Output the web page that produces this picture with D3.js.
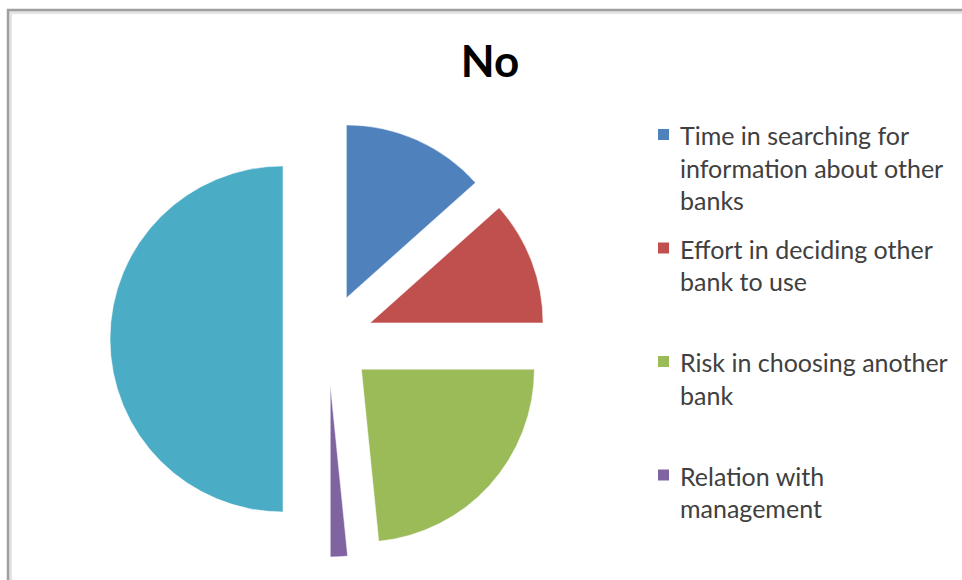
<!DOCTYPE html>
<html>
<head>
<meta charset="utf-8">
<script src="https://cdn.jsdelivr.net/npm/d3@7"></script>
<style>
  html, body { margin: 0; padding: 0; background: #ffffff; }
  svg { display: block; }
</style>
</head>
<body>
<svg id="chart" width="962" height="580"></svg>
<script>
// Chart content
const chartTitle = "No";
const categories = [
  "Time in searching for information about other banks",
  "Effort in deciding other bank to use",
  "Risk in choosing another bank",
  "Relation with management",
  "Other reasons"
];
const shares = [13.4, 11.6, 23.4, 1.6, 50.0];
const sliceColors = ["#4F81BD", "#C0504D", "#9BBB59", "#8064A2", "#4BACC6"];

const width = 962, height = 580;
const svg = d3.select("#chart");

// Frame around the chart area
svg.append("rect")
  .attr("x", 10).attr("y", 12)
  .attr("width", width + 20).attr("height", height + 20)
  .attr("fill", "none").attr("stroke", "#e4e4e4").attr("stroke-width", 4);
svg.append("rect")
  .attr("x", 8).attr("y", 10)
  .attr("width", width + 20).attr("height", height + 20)
  .attr("fill", "none").attr("stroke", "#a0a0a0").attr("stroke-width", 2.5);

// Title
svg.append("text")
  .attr("x", 490).attr("y", 77)
  .attr("text-anchor", "middle")
  .attr("font-family", "Lato, 'Open Sans', sans-serif")
  .attr("font-weight", "bold")
  .attr("font-size", 44)
  .attr("fill", "#000")
  .text(chartTitle);

// Exploded pie
const cx = 328, cy = 339, radius = 173, explode = 45;
const pie = d3.pie().sort(null).value(d => d)
  .startAngle(0).endAngle(2 * Math.PI);
const arc = d3.arc().innerRadius(0).outerRadius(radius);
const arcs = pie(shares);

const pieG = svg.append("g").attr("transform", `translate(${cx},${cy})`);
pieG.selectAll("path")
  .data(arcs)
  .join("path")
  .attr("d", arc)
  .attr("fill", (d, i) => sliceColors[i])
  .attr("stroke", "#ffffff")
  .attr("stroke-opacity", 0.5)
  .attr("stroke-width", 1)
  .attr("transform", d => {
    const mid = (d.startAngle + d.endAngle) / 2;
    return `translate(${Math.sin(mid) * explode},${-Math.cos(mid) * explode})`;
  });

// Legend with wrapped labels
const legendX = 658, textX = 680, firstBaseline = 145;
const lineGap = 32.5, itemGap = 113.5, maxTextWidth = 276;
const legendFont = { family: "Lato, 'Open Sans', sans-serif", size: 25 };

const measurer = svg.append("text")
  .attr("font-family", legendFont.family)
  .attr("font-size", legendFont.size)
  .attr("visibility", "hidden");
function wrap(label) {
  const words = label.split(" ");
  const lines = [];
  let cur = "";
  words.forEach(w => {
    const trial = cur ? cur + " " + w : w;
    measurer.text(trial);
    if (cur && measurer.node().getComputedTextLength() > maxTextWidth) {
      lines.push(cur);
      cur = w;
    } else {
      cur = trial;
    }
  });
  if (cur) lines.push(cur);
  return lines;
}

const legendItems = categories.map((c, i) => ({
  name: c, color: sliceColors[i], lines: wrap(c),
  y: firstBaseline + i * itemGap
})).filter(d => d.y + 6 < height);
measurer.remove();

const legend = svg.append("g");
const items = legend.selectAll("g").data(legendItems).join("g");
items.append("rect")
  .attr("x", legendX).attr("y", d => d.y - 16)
  .attr("width", 11).attr("height", 11)
  .attr("fill", d => d.color);
items.append("text")
  .attr("font-family", legendFont.family)
  .attr("font-size", legendFont.size)
  .attr("fill", "#404040")
  .each(function (d) {
    d3.select(this).selectAll("tspan")
      .data(d.lines)
      .join("tspan")
      .attr("x", textX)
      .attr("y", (l, j) => d.y + j * lineGap)
      .text(l => l);
  });
</script>
</body>
</html>
